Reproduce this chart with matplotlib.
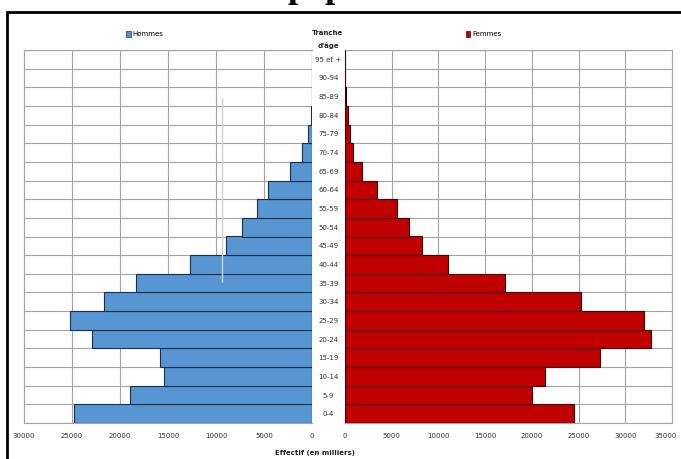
import matplotlib.pyplot as plt
from matplotlib.patches import Rectangle, Patch
from matplotlib.transforms import ScaledTranslation

# age groups, youngest first
tranches = ["0-4", "5-9", "10-14", "15-19", "20-24", "25-29", "30-34",
            "35-39", "40-44", "45-49", "50-54", "55-59", "60-64", "65-69",
            "70-74", "75-79", "80-84", "85-89", "90-94", "95 et +"]
hommes = [24800, 19000, 15400, 15800, 22900, 25200, 21700, 18300, 12700,
          8950, 7250, 5750, 4600, 2300, 1000, 400, 100, 40, 20, 10]
femmes = [24500, 20000, 21400, 27300, 32700, 32000, 25300, 17100, 11000,
          8250, 6850, 5600, 3400, 1800, 850, 500, 300, 100, 20, 10]
ticks_h = [30000, 25000, 20000, 15000, 10000, 5000, 0]
ticks_f = [0, 5000, 10000, 15000, 20000, 25000, 30000, 35000]

W, H = 681, 459
fig = plt.figure(figsize=(W / 100, H / 100), dpi=100)
plt.rcParams["font.family"] = ["Liberation Sans Narrow", "DejaVu Sans"]

bottom = (H - 423) / H
height = (423 - 50) / H
ax_h = fig.add_axes([24 / W, bottom, (312 - 24) / W, height])
ax_f = fig.add_axes([345 / W, bottom, (672 - 345) / W, height])

y = list(range(len(tranches)))
grid_col = "#a3a3a3"

ax_h.barh(y, hommes, height=1.0, color="#5896d3",
          edgecolor="#1c2f4a", linewidth=0.8, zorder=3)
ax_f.barh(y, femmes, height=1.0, color="#c00000",
          edgecolor="#3d0000", linewidth=0.8, zorder=3)

ax_h.set_xlim(30000, 0)
ax_f.set_xlim(0, 35000)
ax_h.set_xticks(ticks_h, [str(t) for t in ticks_h])
ax_f.set_xticks(ticks_f, [str(t) for t in ticks_f])

for ax in (ax_h, ax_f):
    ax.set_ylim(-0.5, len(tranches) - 0.5)
    ax.set_yticks([v - 0.5 for v in range(len(tranches) + 1)], minor=True)
    ax.grid(axis="x", which="major", color=grid_col, lw=0.8, zorder=1)
    ax.grid(axis="y", which="minor", color=grid_col, lw=0.8, zorder=1)
    ax.tick_params(axis="x", length=0, pad=7, labelsize=5, colors="#333333")
    ax.tick_params(axis="y", which="both", length=0)
    for s in ax.spines.values():
        s.set_color(grid_col)
        s.set_linewidth(0.8)

ax_h.set_yticks([])
ax_h.spines["right"].set_visible(False)

# keep the last tick label inside the canvas
last = ax_f.get_xticklabels()[-1]
last.set_transform(last.get_transform()
                   + ScaledTranslation(-6 / 100, 0, fig.dpi_scale_trans))

# age labels sit in the gap between both halves
ax_f.set_yticks(y, tranches)
for lab in ax_f.get_yticklabels():
    lab.set_horizontalalignment("center")
ax_f.tick_params(axis="y", pad=12, labelsize=5, colors="#333333")

# stray light line over the male bars
ax_h.vlines(9400, 7.06, 16.93, color="#cfcfcf", lw=1, zorder=4)

ax_h.legend(handles=[Patch(facecolor="#5896d3", edgecolor="#1c2f4a", lw=0.5,
                           label="Hommes")],
            loc="center", bbox_to_anchor=(0.42, 1.043), frameon=False,
            fontsize=5, handlelength=0.6, handleheight=0.9,
            handletextpad=0.3, borderpad=0)
ax_f.legend(handles=[Patch(facecolor="#c00000", edgecolor="#3d0000", lw=0.5,
                           label="Femmes")],
            loc="center", bbox_to_anchor=(0.425, 1.043), frameon=False,
            fontsize=5, handlelength=0.6, handleheight=0.9,
            handletextpad=0.3, borderpad=0)

fig.text(328 / W, 1 - 33 / H, "Tranche", ha="center", va="center",
         fontsize=5, fontweight="bold", color="#222222")
fig.text(328 / W, 1 - 46 / H, "d'âge", ha="center", va="center",
         fontsize=5, fontweight="bold", color="#222222")
fig.text(315 / W, 1 - 453 / H, "Effectif (en milliers)", ha="center",
         va="center", fontsize=5, fontweight="bold", color="#222222")

# heading above the frame, mostly outside the canvas
fig.text(287 / W, 1 + 3 / H, "population", ha="left", va="baseline",
         fontsize=26, fontweight="bold", family="Liberation Serif",
         color="black")

# black frame around the chart
fig.patches.append(Rectangle((6.5 / W, -0.1), 1.2, 1.1 - 12.5 / H,
                             transform=fig.transFigure, fill=False,
                             edgecolor="black", lw=2))

fig.savefig("out.png", dpi=100)
